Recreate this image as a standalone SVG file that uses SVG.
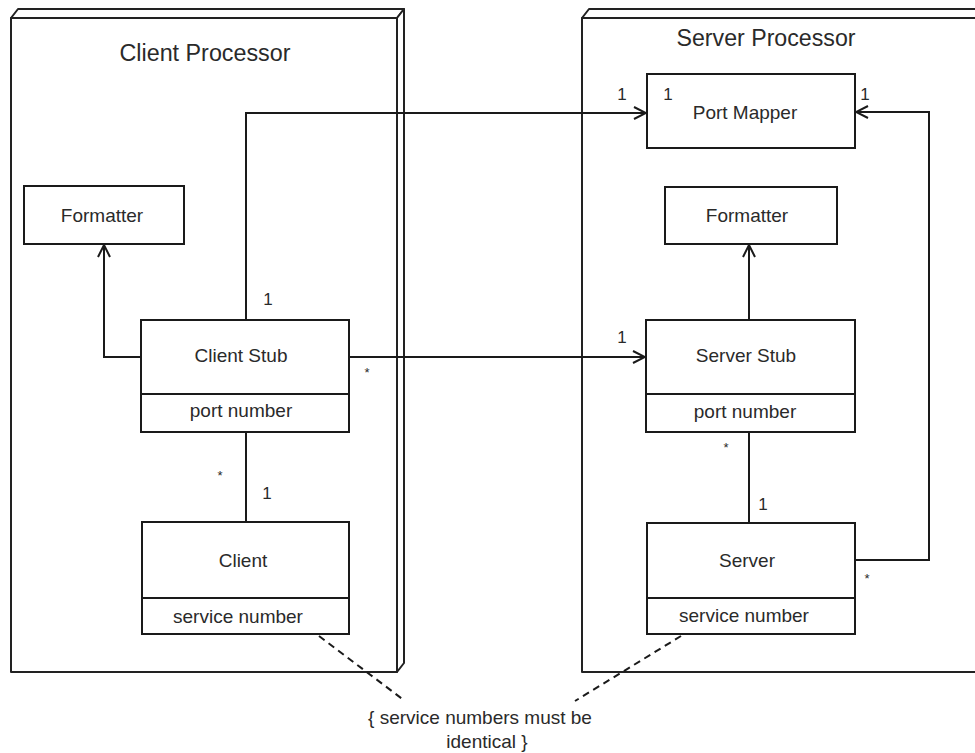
<svg xmlns="http://www.w3.org/2000/svg" width="975" height="753" viewBox="0 0 975 753">
<style>
  .bg { fill: #ffffff; }
  .proc { fill: #ffffff; stroke: #222; stroke-width: 2; stroke-linejoin: round; }
  .procSide { fill: #ffffff; stroke: #222; stroke-width: 2; stroke-linejoin: round; }
  .box { fill: #ffffff; stroke: #1a1a1a; stroke-width: 2; }
  .div { stroke: #1a1a1a; stroke-width: 2; }
  .conn { fill: none; stroke: #1a1a1a; stroke-width: 2; }
  .dash { fill: none; stroke: #1a1a1a; stroke-width: 2; stroke-dasharray: 7 5; }
  text { font-family: "Liberation Sans", Arial, sans-serif; fill: #2a2a2a; }
  .title { font-size: 23px; text-anchor: middle; }
  .lbl { font-size: 19px; text-anchor: middle; }
  .mult { font-size: 17px; text-anchor: middle; }
  .star { font-size: 13px; text-anchor: middle; }
</style>
<defs>
  <marker id="open" viewBox="0 0 14 14" refX="13" refY="7" markerWidth="14" markerHeight="14" markerUnits="userSpaceOnUse" orient="auto">
    <path d="M1,1 L13,7 L1,13" fill="none" stroke="#1a1a1a" stroke-width="2"/>
  </marker>
</defs>
<rect class="bg" x="0" y="0" width="975" height="753"/>

<g id="client-processor">
  <polygon class="procSide" points="11,18 18,9 404,9 397,18"/>
  <polygon class="procSide" points="397,18 404,9 404,663 397,672"/>
  <rect class="proc" x="11" y="18" width="386" height="654"/>
  <text class="title" x="205" y="61" textLength="171" lengthAdjust="spacingAndGlyphs">Client Processor</text>
</g>

<g id="server-processor">
  <polygon class="procSide" points="582,18 589,9 990,9 983,18"/>
  <rect class="proc" x="582" y="18" width="410" height="654"/>
  <text class="title" x="766" y="46" textLength="179" lengthAdjust="spacingAndGlyphs">Server Processor</text>
</g>

<g id="client-formatter">
  <rect class="box" x="24" y="186" width="160" height="58"/>
  <text class="lbl" x="102" y="222">Formatter</text>
</g>

<g id="client-stub">
  <rect class="box" x="141" y="320" width="208" height="112"/>
  <line class="div" x1="141" y1="394" x2="349" y2="394"/>
  <text class="lbl" x="241" y="362">Client Stub</text>
  <text class="lbl" x="241" y="417">port number</text>
</g>

<g id="client">
  <rect class="box" x="142" y="522" width="207" height="112"/>
  <line class="div" x1="142" y1="598" x2="349" y2="598"/>
  <text class="lbl" x="243" y="567">Client</text>
  <text class="lbl" x="238" y="623">service number</text>
</g>

<g id="port-mapper">
  <rect class="box" x="647" y="74" width="208" height="74"/>
  <text class="lbl" x="745" y="119">Port Mapper</text>
</g>

<g id="server-formatter">
  <rect class="box" x="665" y="187" width="172" height="57"/>
  <text class="lbl" x="747" y="222">Formatter</text>
</g>

<g id="server-stub">
  <rect class="box" x="646" y="320" width="209" height="112"/>
  <line class="div" x1="646" y1="394" x2="855" y2="394"/>
  <text class="lbl" x="746" y="362">Server Stub</text>
  <text class="lbl" x="745" y="418">port number</text>
</g>

<g id="server">
  <rect class="box" x="647" y="523" width="208" height="111"/>
  <line class="div" x1="647" y1="598" x2="855" y2="598"/>
  <text class="lbl" x="747" y="567">Server</text>
  <text class="lbl" x="744" y="622">service number</text>
</g>

<g id="connectors">
  <polyline class="conn" points="246,320 246,113 646,113" marker-end="url(#open)"/>
  <polyline class="conn" points="141,357 104,357 104,245" marker-end="url(#open)"/>
  <line class="conn" x1="349" y1="357" x2="645" y2="357" marker-end="url(#open)"/>
  <line class="conn" x1="246" y1="432" x2="246" y2="522"/>
  <line class="conn" x1="749" y1="320" x2="749" y2="245" marker-end="url(#open)"/>
  <line class="conn" x1="749" y1="432" x2="749" y2="523"/>
  <polyline class="conn" points="855,560 929,560 929,112 856,112" marker-end="url(#open)"/>
  <line class="dash" x1="319" y1="636" x2="405" y2="701"/>
  <line class="dash" x1="681" y1="636" x2="575" y2="701"/>
</g>

<g id="multiplicities">
  <text class="mult" x="622" y="100">1</text>
  <text class="mult" x="668" y="100">1</text>
  <text class="mult" x="865" y="100">1</text>
  <text class="mult" x="268" y="305">1</text>
  <text class="star" x="367" y="377">*</text>
  <text class="star" x="220" y="480">*</text>
  <text class="mult" x="267" y="499">1</text>
  <text class="mult" x="622" y="343">1</text>
  <text class="star" x="726" y="452">*</text>
  <text class="mult" x="763" y="510">1</text>
  <text class="star" x="867" y="583">*</text>
</g>

<g id="constraint">
  <text class="lbl" x="480" y="724">{ service numbers must be</text>
  <text class="lbl" x="487" y="748">identical }</text>
</g>
</svg>
